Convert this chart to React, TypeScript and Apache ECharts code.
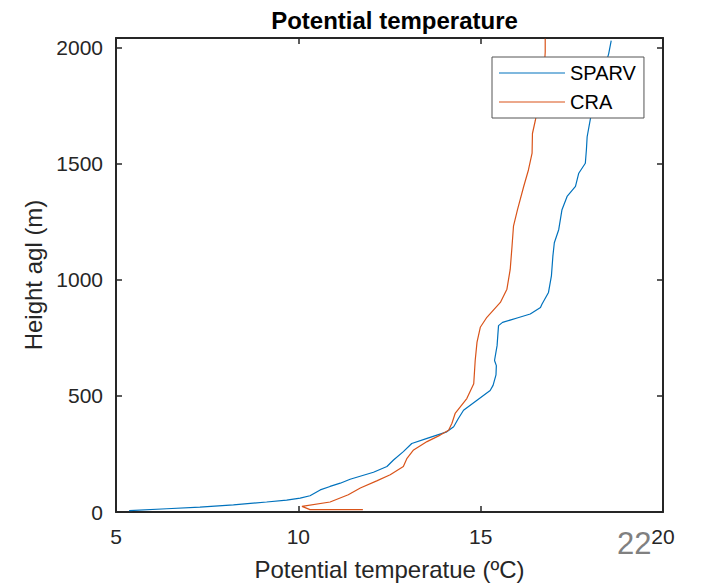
import React, { useEffect, useRef } from "react";
import * as echarts from "echarts";

const sparvHeight = [6, 14, 21, 31, 43, 51, 60, 70, 95, 110, 124, 141, 171, 196, 224, 260, 295, 317, 345, 367, 400, 438, 481, 523, 545, 590, 630, 652, 716, 760, 802, 816, 835, 852, 880, 894, 945, 1016, 1101, 1159, 1215, 1301, 1358, 1401, 1458, 1501, 1560, 1615, 1693, 1750, 1850, 1950, 1972, 2029];
const sparvTemp = [5.36, 6.39, 7.3, 8.22, 9.13, 9.68, 10.05, 10.32, 10.6, 10.87, 11.15, 11.42, 12.06, 12.43, 12.61, 12.88, 13.11, 13.53, 14.07, 14.26, 14.38, 14.53, 14.9, 15.26, 15.34, 15.42, 15.43, 15.38, 15.45, 15.47, 15.49, 15.6, 16.0, 16.36, 16.64, 16.68, 16.86, 16.94, 16.98, 17.02, 17.14, 17.23, 17.37, 17.6, 17.69, 17.87, 17.9, 17.92, 18.01, 18.1, 18.3, 18.47, 18.51, 18.58];

const craHeight = [10, 10, 24, 43, 74, 103, 134, 160, 196, 231, 267, 303, 331, 352, 381, 424, 488, 552, 652, 731, 795, 838, 902, 959, 1044, 1144, 1230, 1301, 1401, 1472, 1544, 1629, 1686, 1800, 1900, 1980, 2037];
const craTemp = [11.77, 10.32, 10.1, 10.87, 11.37, 11.7, 12.15, 12.52, 12.88, 12.98, 13.16, 13.53, 13.89, 14.12, 14.21, 14.3, 14.62, 14.81, 14.85, 14.9, 14.99, 15.17, 15.54, 15.72, 15.81, 15.86, 15.9, 16.01, 16.18, 16.31, 16.41, 16.42, 16.5, 16.65, 16.74, 16.77, 16.77];

const seriesNames = ["SPARV", "CRA"];
const seriesColors = ["#0072BD", "#D95319"];
const xTicks = [5, 10, 15, 20];
const yTicks = [0, 500, 1000, 1500, 2000];
const yMax = 2040;

const FONT = "'Liberation Sans', Arial, Helvetica, sans-serif";
const AX = "#262626";

export default function App() {
  const ref = useRef<HTMLDivElement>(null);
  useEffect(() => {
    if (!ref.current) return;
    const chart = echarts.init(ref.current, undefined, { renderer: "svg" });
    const pairs = (xs: number[], ys: number[]) => xs.map((x, i) => [x, ys[i]]);
    const axisLine = { show: true, onZero: false, lineStyle: { color: AX, width: 2 } };
    const axisTick = { show: true, inside: true, length: 6, lineStyle: { color: AX, width: 1.5 } };
    const xBase = {
      type: "value",
      min: xTicks[0],
      max: xTicks[xTicks.length - 1],
      interval: 5,
      axisLine,
      axisTick,
      splitLine: { show: false },
    };
    const yBase = {
      type: "value",
      min: 0,
      max: yMax,
      interval: 500,
      axisLine,
      axisTick: {
        ...axisTick,
        interval: (_i: number, v: any) => yTicks.includes(Number(v)),
      },
      splitLine: { show: false },
    };
    chart.setOption({
      animation: false,
      backgroundColor: "#fff",
      textStyle: { fontFamily: FONT },
      title: {
        text: "Potential temperature",
        left: 389.5,
        top: 3,
        textAlign: "center",
        textStyle: { fontFamily: FONT, fontSize: 24, fontWeight: "bold", color: "#000" },
      },
      grid: { left: 116, right: 41, top: 38, bottom: 72, containLabel: false },
      legend: {
        orient: "vertical",
        left: 492,
        top: 57,
        icon: "rect",
        itemWidth: 66,
        itemHeight: 1.2,
        itemGap: 9,
        padding: [6, 8, 6, 7],
        backgroundColor: "#fff",
        borderColor: "#555",
        borderWidth: 1,
        textStyle: { fontFamily: FONT, fontSize: 20, color: "#000" },
        data: seriesNames,
      },
      xAxis: [
        {
          ...xBase,
          position: "bottom",
          name: "Potential temperatue (ºC)",
          nameLocation: "middle",
          nameGap: 45,
          nameTextStyle: { fontFamily: FONT, fontSize: 24, color: AX },
          axisLabel: { fontFamily: FONT, fontSize: 21, color: AX, margin: 14 },
        },
        { ...xBase, position: "top", axisLabel: { show: false } },
      ],
      yAxis: [
        {
          ...yBase,
          position: "left",
          name: "Height agl (m)",
          nameLocation: "middle",
          nameGap: 68,
          nameTextStyle: { fontFamily: FONT, fontSize: 24, color: AX },
          axisLabel: {
            fontFamily: FONT,
            fontSize: 21,
            color: AX,
            margin: 13,
            formatter: (v: number) => (yTicks.includes(v) ? String(v) : ""),
          },
        },
        { ...yBase, position: "right", axisLabel: { show: false } },
      ],
      series: [
        {
          name: seriesNames[0],
          type: "line",
          data: pairs(sparvTemp, sparvHeight),
          symbol: "none",
          smooth: false,
          color: seriesColors[0],
          lineStyle: { color: seriesColors[0], width: 1.2 },
          z: 2,
        },
        {
          name: seriesNames[1],
          type: "line",
          data: pairs(craTemp, craHeight),
          symbol: "none",
          smooth: false,
          color: seriesColors[1],
          lineStyle: { color: seriesColors[1], width: 1.2 },
          z: 2,
        },
      ],
      graphic: [
        {
          type: "text",
          left: 617,
          top: 528,
          z: -1,
          style: { text: "22", fontFamily: FONT, fontSize: 31, fill: "#808080" },
        },
      ],
    });
    return () => chart.dispose();
  }, []);
  return (
    <div
      ref={ref}
      style={{ position: "absolute", left: 0, top: 0, width: 704, height: 586 }}
    />
  );
}
